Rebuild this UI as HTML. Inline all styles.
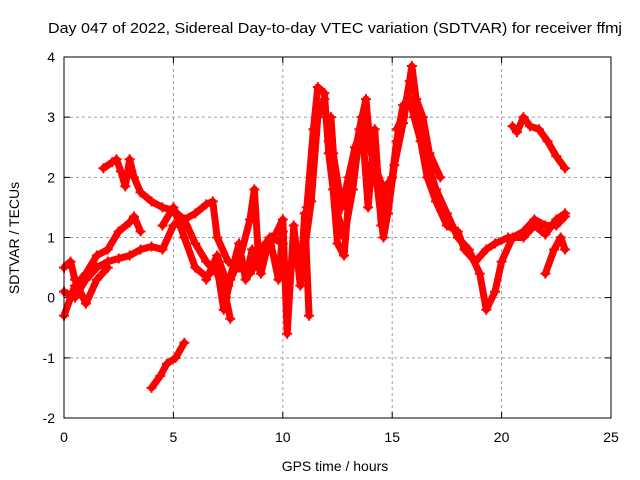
<!DOCTYPE html>
<html><head><meta charset="utf-8"><style>
html,body{margin:0;padding:0;background:#fff}
svg{display:block;font-family:"Liberation Sans",sans-serif}
</style></head><body>
<svg id="chart" width="640" height="480">
<text x="48" y="33" font-size="15" textLength="574" lengthAdjust="spacingAndGlyphs">Day 047 of 2022, Sidereal Day-to-day VTEC variation (SDTVAR) for receiver ffmj</text>
<text x="335" y="471" font-size="14" text-anchor="middle">GPS time / hours</text>
<text transform="translate(19,238) rotate(-90)" font-size="14" text-anchor="middle">SDTVAR / TECUs</text>
<g id="grid"></g><g id="ticks"></g><g id="marks"></g>
<rect x="64" y="57" width="547" height="361" fill="none" stroke="#000" stroke-width="1"/>
</svg>
<script>
const xTicks=[0,5,10,15,20,25];
const yTicks=[-2,-1,0,1,2,3,4];
const seriesA=[[4.0,-1.5],[4.4,-1.3],[4.7,-1.1],[5.1,-1.0],[5.5,-0.75]];
const seriesB=[[1.8,2.15],[2.2,2.25],[2.4,2.3],[2.6,2.1],[2.8,1.85],[3.0,2.3],[3.2,2.0],[3.5,1.75],[4.0,1.6],[4.5,1.5],[5.0,1.45],[5.5,1.3],[6.0,0.9],[6.5,0.6],[7.0,0.4],[7.4,0.0],[7.6,-0.35]];
const seriesC=[[0,0.1],[0.5,0],[1.0,0.3],[1.5,0.5],[2.0,0.6],[2.5,0.65],[3.0,0.7],[3.5,0.8],[4.0,0.85],[4.5,0.8],[5.0,1.2],[5.5,1.3],[6.0,1.4],[6.5,1.55],[6.8,1.6],[7.0,1.0],[7.5,0.6],[8.0,0.5],[8.5,0.4],[9.0,0.7],[9.5,1.0],[10.0,0.9]];
const seriesD=[[0,-0.3],[0.5,0.2],[1,0.4],[1.5,0.7],[2,0.8],[2.5,1.1],[3,1.25],[3.2,1.35],[3.5,1.1]];
const seriesE=[[0,0.5],[0.3,0.6],[0.5,0.3],[1.0,-0.1],[1.5,0.3],[2,0.5]];
const seriesF=[[4.5,1.2],[5.0,1.5],[5.5,1.0],[6.0,0.5],[6.5,0.35],[7.0,0.5],[7.3,-0.2],[7.6,0.3],[8.0,0.6],[8.5,1.3],[8.7,1.8],[8.9,0.6],[9.2,0.9],[9.6,1.0],[10.0,1.3],[10.2,-0.6],[10.5,1.2],[10.8,0.2],[11.0,1.4],[11.2,-0.3]];
const seriesG=[[10.8,0.5],[11.1,1.5],[11.4,2.8],[11.6,3.5],[11.9,3.4],[12.1,2.4],[12.3,1.8],[12.5,0.9],[12.8,0.7],[13.1,2.0],[13.5,2.8],[13.8,3.3],[14.0,2.5],[14.3,1.9],[14.6,1.0],[14.8,1.4],[15.1,2.2],[15.5,2.9],[15.9,3.85],[16.2,3.0],[16.5,2.4],[17.0,1.8],[17.5,1.4],[18.0,1.0],[18.5,0.8],[19.0,0.4],[19.3,-0.2],[19.7,0.1],[20.0,0.6],[20.5,1.0],[21.0,1.1],[21.5,1.3],[22.0,1.2],[22.5,1.2],[22.9,1.35]];
const seriesH=[[11.0,0.8],[11.3,1.6],[11.6,3.0],[11.9,3.3],[12.1,2.6],[12.3,2.4],[12.7,1.5],[13.0,2.0],[13.3,2.5],[13.6,2.8],[13.9,2.6],[14.2,2.2],[14.5,1.9],[14.8,1.4],[15.0,2.0],[15.2,2.6],[15.5,3.2],[15.8,3.3],[16.0,3.0],[16.3,2.6],[16.6,2.0],[17.0,1.6],[17.5,1.2],[18.0,1.1],[18.3,0.8],[18.8,0.6],[19.3,0.8],[19.7,0.9],[20.3,1.0],[21.0,1.0],[21.5,1.2],[22.0,1.05],[22.5,1.3],[22.9,1.4]];
const seriesI=[[22.0,0.4],[22.4,0.8],[22.7,1.0],[22.9,0.8]];
const seriesJ=[[20.5,2.85],[20.7,2.75],[21.0,3.0],[21.3,2.85],[21.7,2.8],[22.1,2.6],[22.5,2.35],[22.9,2.15]];
const seriesK=[[6.5,0.3],[7.0,0.7],[7.5,0.2],[8.0,0.9],[8.3,0.3],[8.6,0.8],[9.0,0.4],[9.4,1.0],[9.8,0.3],[10.0,1.1]];
const seriesL=[[12.2,3.0],[12.5,1.4],[12.8,1.0],[13.2,1.8],[13.6,3.0],[13.9,1.5],[14.2,2.8],[14.5,1.2],[14.8,1.9]];
const seriesM=[[15.2,2.8],[15.5,3.0],[15.8,3.6],[16.1,3.3],[16.4,3.0],[16.7,2.4],[17.2,2.0]];
const allSeries=[seriesA,seriesB,seriesC,seriesD,seriesE,seriesF,seriesG,seriesH,seriesI,seriesJ,seriesK,seriesL,seriesM];
const X0=64,X1=611,Y0=418,Y1=57,xmin=0,xmax=25,ymin=-2,ymax=4;
function sx(v){return X0+(v-xmin)/(xmax-xmin)*(X1-X0);}
function sy(v){return Y0-(v-ymin)/(ymax-ymin)*(Y0-Y1);}
const NS="http://www.w3.org/2000/svg";
function mk(tag,attrs,parent){const e=document.createElementNS(NS,tag);for(const k in attrs)e.setAttribute(k,attrs[k]);parent.appendChild(e);return e;}
const grid=document.getElementById('grid'),ticks=document.getElementById('ticks'),marks=document.getElementById('marks');
xTicks.forEach(t=>{const x=sx(t);
 if(t>xmin&&t<xmax){const g=mk('line',{x1:x,x2:x,y1:Y1,y2:Y0,stroke:'#a0a0a0','stroke-dasharray':'3,3'},grid);
 
 }
 const tk=mk('path',{d:`M${x},${Y0}v-6M${x},${Y1}v6`,stroke:'#000'},ticks);
 
 
 const l=mk('text',{x:x,y:Y0+24,'font-size':14,'text-anchor':'middle'},ticks);l.textContent=t;
 
 
});
yTicks.forEach(t=>{const y=sy(t);
 if(t>ymin&&t<ymax){const g=mk('line',{x1:X0,x2:X1,y1:y,y2:y,stroke:'#a0a0a0','stroke-dasharray':'3,3'},grid);
 
 }
 const tk=mk('path',{d:`M${X0},${y}h6M${X1},${y}h-6`,stroke:'#000'},ticks);
 
 
 const l=mk('text',{x:X0-9,y:y+5,'font-size':14,'text-anchor':'end'},ticks);l.textContent=t;
 
 
});
allSeries.forEach((s,i)=>{
 const pts=s.map(p=>sx(p[0])+','+sy(p[1])).join(' ');
 const pl=mk('polyline',{points:pts,fill:'none',stroke:'#ff0000','stroke-width':7,'stroke-linejoin':'round','stroke-linecap':'round'},marks);
 
 
 s.forEach(p=>{const x=sx(p[0]),y=sy(p[1]);
  const m=mk('path',{d:`M${x-5},${y}h10M${x},${y-5}v10`,stroke:'#ff0000','stroke-width':2},marks);
  
  
 });
});
</script>
</body></html>
